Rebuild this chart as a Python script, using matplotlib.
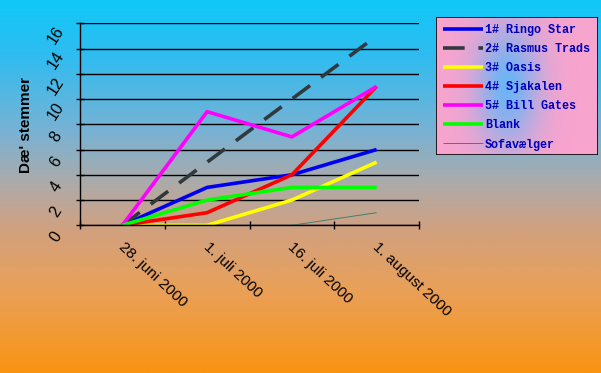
import matplotlib.pyplot as plt
import matplotlib.transforms as mtransforms
from matplotlib.colors import LinearSegmentedColormap
from matplotlib.patches import Rectangle
import numpy as np

# %% data

dates = ['28. juni 2000', '1. juli 2000', '16. juli 2000', '1. august 2000']
yticks = [0, 2, 4, 6, 8, 10, 12, 14, 16]

ringo = [0, 3, 4, 6]
rasmus = [0, 5, 10, 15]
oasis = [0, 0, 2, 5]
sjakalen = [0, 1, 4, 11]
bill = [0, 9, 7, 11]
blank = [0, 2, 3, 3]
sofa = [0, 0, 0, 1]

names = ['1# Ringo Star', '2# Rasmus Trads', '3# Oasis', '4# Sjakalen',
         '5# Bill Gates', 'Blank', 'Sofavælger']

# %%

fig = plt.figure(figsize=(6.01, 3.73), dpi=100)

# background gradient, cyan at top to orange at bottom
bg_cmap = LinearSegmentedColormap.from_list('bg', [
    (0.00, '#10c8f8'),
    (0.15, '#30bcf0'),
    (0.35, '#78b2d4'),
    (0.50, '#b0aaa6'),
    (0.62, '#d2a07e'),
    (0.78, '#eaa058'),
    (0.90, '#f29a34'),
    (1.00, '#f89410'),
])
bg = fig.add_axes([0, 0, 1, 1], zorder=-10)
bg.imshow(np.linspace(0, 1, 256)[:, None], aspect='auto', cmap=bg_cmap,
          extent=[0, 1, 0, 1])
bg.axis('off')

ax = fig.add_axes([80/601, 1 - 225.3/373, 339/601, 202/373])
ax.patch.set_alpha(0)

x = np.arange(len(dates)) + 0.5
lw = 2.6
series = [
    (ringo, dict(color='#0000f0', lw=lw)),
    (rasmus, dict(color='#303a3c', lw=lw, linestyle=(0, (6, 3.8)))),
    (oasis, dict(color='#ffff00', lw=lw)),
    (sjakalen, dict(color='#ff0000', lw=lw)),
    (bill, dict(color='#ff00ff', lw=lw)),
    (blank, dict(color='#00ff00', lw=lw)),
    (sofa, dict(color='#3f7f74', lw=0.7)),
]
handles = []
for (vals, kw), name in zip(series, names):
    h, = ax.plot(x, vals, label=name, solid_capstyle='butt', **kw)
    handles.append(h)

ax.set_xlim(0, len(dates))
ax.set_ylim(0, 16)
ax.set_xticks(np.arange(len(dates) + 1))
ax.set_yticks(yticks)
ax.tick_params(axis='both', direction='inout', length=6, width=1,
               color='black', labelleft=False, labelbottom=False)
ax.grid(axis='y', color='black', lw=1)
ax.set_axisbelow(True)
for s in ['top', 'right']:
    ax.spines[s].set_visible(False)
for s in ['left', 'bottom']:
    ax.spines[s].set_linewidth(1)

# rotated tick labels
ytrans = mtransforms.offset_copy(ax.get_yaxis_transform(), fig=fig,
                                 x=-24, y=-12, units='dots')
for v in yticks:
    ax.text(0, v, str(v), transform=ytrans, rotation=57, ha='center',
            va='center', fontsize=11.5, family='Liberation Sans')

xtrans = mtransforms.offset_copy(ax.get_xaxis_transform(), fig=fig,
                                 x=3, y=-14, units='dots')
for xi, d in zip(x, dates):
    ax.text(xi, 0, d, transform=xtrans, rotation=-43, ha='left', va='top',
            rotation_mode='anchor', fontsize=11, family='Liberation Sans')

fig.text(26/601, 1 - 125/373, "Dæ' stemmer", rotation=90, ha='center',
         va='center', fontsize=11, fontweight='bold', family='Liberation Sans')

# legend box with pink fill and a blue glow in the middle
lx0, ly0, lw_, lh_ = 436/601, 1 - 155/373, 162/601, 138/373
lax = fig.add_axes([lx0, ly0, lw_, lh_], zorder=5)
gx, gy = np.meshgrid(np.linspace(0, 1, 200), np.linspace(0, 1, 200))
glow = np.exp(-(((gx - 0.44) / 0.2)**2 + ((gy - 0.5) / 0.45)**2))
pink = np.array([248, 164, 206]) / 255
blue = np.array([110, 180, 245]) / 255
img = pink[None, None, :] * (1 - glow[..., None]) + blue[None, None, :] * glow[..., None]
lax.imshow(img, aspect='auto', extent=[0, 1, 0, 1])
lax.add_patch(Rectangle((0, 0), 1, 1, transform=lax.transAxes, fill=False,
                        ec='black', lw=1.2))
lax.set_xticks([])
lax.set_yticks([])
for s in lax.spines.values():
    s.set_visible(False)

leg = lax.legend(handles=handles, loc='upper left', frameon=False,
                 bbox_to_anchor=(0.0, 1.0), borderaxespad=0.2,
                 handlelength=3.4, handletextpad=0.15, labelspacing=0.6,
                 prop=dict(family='Liberation Mono', weight='bold', size=8.5))
for t in leg.get_texts():
    t.set_color('#0000b8')

fig.savefig('out.png', dpi=100)
